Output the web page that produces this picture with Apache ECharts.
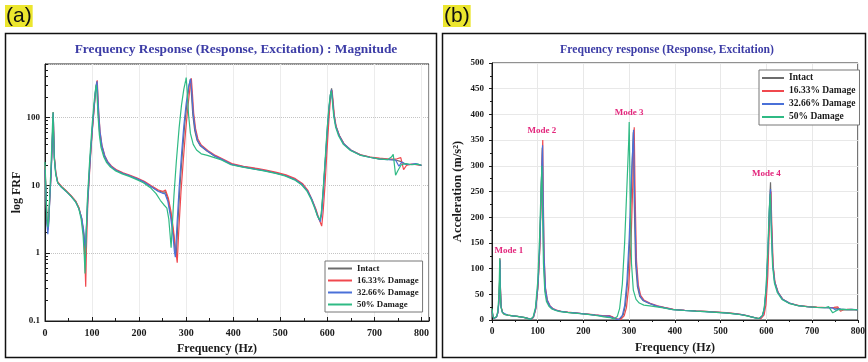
<!DOCTYPE html>
<html>
<head>
<meta charset="utf-8">
<script src="https://cdn.jsdelivr.net/npm/echarts@6/dist/echarts.min.js"></script>
<style>
  html, body { margin: 0; padding: 0; background: #fff; }
  #chart { width: 868px; height: 362px; }
</style>
</head>
<body>
<div id="chart"></div>
<script>
// Frequency response of the beam for the intact case and three damage levels.
// Each series is a list of [frequency (Hz), magnitude] pairs.
const seriesNames = ['Intact', '16.33% Damage', '32.66% Damage', '50% Damage'];

const intact = [
  [0, 18], [2, 8], [4, 3], [6, 2.2], [8, 3], [10, 6], [13, 15], [15, 35], [16.5, 70], [17.5, 115],
  [18.5, 60], [20, 25], [23, 15], [27, 11], [35, 9.5], [45, 8.2], [55, 7], [65, 5.8], [72, 4.6],
  [78, 3.2], [82, 2], [85, 1.1], [87, 1.6], [90, 5], [95, 20], [100, 60], [104, 130], [107, 230],
  [109, 300], [110, 335], [111, 240], [113, 120], [116, 60], [120, 38], [126, 27], [132, 22],
  [140, 19], [150, 16.8], [165, 15], [180, 13.8], [195, 12.5], [210, 11.2], [225, 9.6], [240, 8.3],
  [250, 7.9], [256, 8.0], [262, 6], [268, 3.5], [273, 1.9], [277, 1.05], [279, 0.9], [282, 2.5],
  [287, 10], [292, 30], [297, 80], [302, 170], [306, 290], [309, 365], [311, 230], [314, 110],
  [318, 65], [323, 46], [330, 38], [344, 32], [360, 27], [375, 24], [395, 20.5], [420, 18.8],
  [445, 17.5], [465, 16.6], [490, 15.2], [510, 14], [530, 12.3], [545, 10.5], [557, 8.4], [566, 6.3],
  [573, 4.8], [579, 3.6], [584, 3.0], [587, 3.6], [591, 8], [595, 20], [600, 60], [604, 140],
  [607, 230], [609, 268], [611, 190], [614, 110], [618, 75], [625, 55], [635, 41], [650, 33],
  [670, 28], [690, 26], [710, 24.5], [730, 24], [745, 23.5], [755, 22.5], [765, 20.5], [775, 20],
  [785, 20.5], [800, 19.5]
];

const damage16 = [
  [0, 19], [2, 8.5], [4, 3.2], [6, 2.3], [8, 3.1], [10, 6.2], [13, 15.5], [15, 37], [16.5, 75],
  [17.5, 120], [18.5, 62], [20, 26], [23, 15.5], [27, 11.2], [35, 9.6], [45, 8.3], [55, 7.1],
  [65, 5.9], [72, 4.7], [78, 3.2], [82, 1.9], [84.5, 0.9], [86.5, 0.32], [88, 1.1], [91, 5.5],
  [96, 22], [101, 70], [105, 150], [108, 260], [110, 320], [111, 350], [112, 250], [114, 125],
  [117, 62], [121, 39], [127, 27.5], [133, 22.5], [141, 19.2], [151, 17], [166, 15.2], [181, 14],
  [196, 12.7], [211, 11.4], [226, 9.8], [241, 8.5], [250, 8.1], [256, 8.5], [262, 6.5], [268, 4],
  [273, 2.2], [277, 1.2], [281, 0.72], [284, 2], [289, 8], [294, 24], [299, 65], [304, 150],
  [308, 270], [311, 375], [313, 240], [316, 115], [320, 68], [325, 48], [332, 39], [346, 32.5],
  [362, 27.5], [377, 24.5], [397, 20.8], [422, 19], [447, 17.8], [467, 16.9], [492, 15.5],
  [512, 14.2], [532, 12.5], [547, 10.6], [559, 8.3], [568, 6], [576, 4.4], [582, 3.2], [588, 2.5],
  [591, 4], [595, 10], [599, 30], [603, 85], [606, 170], [608, 225], [610, 250], [612, 180],
  [615, 105], [619, 72], [626, 53], [636, 40], [651, 32.5], [671, 28], [691, 26], [711, 25],
  [731, 24.3], [748, 24.5], [756, 25.5], [762, 17], [768, 19.5], [778, 20.5], [790, 20], [800, 19.8]
];

const damage32 = [
  [0, 17], [2, 7.5], [4, 2.8], [6, 1.9], [8, 2.7], [10, 5.8], [13, 14.5], [15, 34], [16.5, 68],
  [17.5, 117], [18.5, 58], [20, 24], [23, 14.5], [27, 10.8], [35, 9.3], [45, 8.1], [55, 6.9],
  [65, 5.7], [72, 4.5], [78, 3.3], [82, 2.2], [85, 1.3], [86.5, 1.2], [88, 2.2], [91, 6], [96, 24],
  [101, 75], [105, 160], [108, 270], [110.5, 340], [112, 220], [114, 118], [117, 60], [121, 38],
  [127, 27], [133, 22], [141, 18.8], [151, 16.6], [166, 14.9], [181, 13.7], [196, 12.4], [211, 11.1],
  [226, 9.5], [241, 8.1], [250, 7.6], [255, 7.5], [261, 5.8], [267, 3.4], [272, 1.8], [275, 1.05],
  [277, 0.87], [280, 2.3], [285, 9], [290, 28], [295, 75], [300, 160], [305, 280], [309.5, 370],
  [312, 230], [315, 112], [319, 66], [324, 46], [331, 38], [345, 32], [361, 27], [376, 24],
  [396, 20.3], [421, 18.6], [446, 17.3], [466, 16.4], [491, 15], [511, 13.8], [531, 12.1],
  [546, 10.3], [558, 8.2], [567, 6.2], [574, 4.6], [580, 3.4], [585, 2.9], [588, 3.8], [592, 9],
  [596, 25], [600, 70], [604, 150], [607, 225], [609, 255], [611, 185], [614, 108], [618, 74],
  [625, 54], [635, 40.5], [650, 32.8], [670, 27.8], [690, 25.8], [710, 24.3], [730, 23.8],
  [745, 23.5], [752, 19], [758, 22], [766, 20.5], [776, 20.2], [788, 20.8], [800, 19.6]
];

const damage50 = [
  [0, 22], [2, 9], [4, 3.3], [6, 2.4], [8, 3.4], [10, 7], [12.5, 17], [14.5, 40], [16, 80], [17, 120],
  [18, 60], [19.5, 26], [22.5, 15], [27, 10.8], [35, 9.4], [45, 8.1], [55, 6.9], [65, 5.7], [72, 4.5],
  [77, 3.1], [81, 1.8], [83.5, 0.9], [85, 0.5], [87, 1.5], [90, 6], [95, 24], [100, 75], [104, 160],
  [107, 250], [109, 300], [110.5, 220], [112.5, 110], [115.5, 55], [119, 36], [125, 26], [131, 21.5],
  [139, 18.5], [149, 16.4], [164, 14.7], [179, 13.5], [194, 12.2], [209, 10.9], [224, 9.2],
  [236, 7.5], [245, 6.0], [252, 5.2], [259, 4.6], [263, 3.2], [266, 1.8], [268, 1.2], [270, 2.2],
  [274, 7], [279, 22], [285, 70], [290, 150], [295, 260], [299, 350], [300, 385], [302, 250],
  [305, 110], [309, 58], [315, 40], [322, 33], [332, 29], [345, 27.5], [360, 25.5], [375, 23.5],
  [395, 20], [420, 18.5], [445, 17.2], [465, 16.3], [490, 14.9], [510, 13.7], [530, 12], [545, 10.2],
  [557, 8.1], [566, 6.1], [573, 4.6], [579, 3.5], [584, 3.1], [587, 3.8], [591, 8.5], [595, 22],
  [599, 60], [603, 135], [606, 210], [608.5, 245], [610.5, 175], [613.5, 105], [617.5, 72],
  [624, 53], [634, 40], [649, 32.5], [669, 27.8], [689, 25.8], [709, 24.4], [728, 23.8], [736, 26],
  [740, 28.5], [745, 14], [750, 16.5], [757, 20], [767, 20.8], [780, 20], [792, 20.4], [800, 19.7]
];

const seriesData = [intact, damage16, damage32, damage50];

// Log-axis minor tick values for the FRF magnitude panel
const logMinorTicks = [
  0.2, 0.3, 0.4, 0.5, 0.6, 0.7, 0.8, 0.9,
  2, 3, 4, 5, 6, 7, 8, 9,
  20, 30, 40, 50, 60, 70, 80, 90,
  200, 300, 400, 500, 600
];

const modeNames = ['Mode 1', 'Mode 2', 'Mode 3', 'Mode 4'];

const serif = '"Liberation Serif", "Times New Roman", serif';
const colors = ['#6c6c6c', '#f0484e', '#4a70d8', '#2fba84'];
const ink = '#1a1a1a';

const boldText = (size, color) => ({
  fontFamily: serif, fontWeight: 'bold', fontSize: size, color: color || ink
});

const series = [];
seriesNames.forEach((name, i) => {
  const common = {
    type: 'line', name: name, data: seriesData[i], symbol: 'none',
    color: colors[i], lineStyle: { width: 1.2, color: colors[i] }, animation: false
  };
  series.push(Object.assign({}, common, { xAxisIndex: 0, yAxisIndex: 0 }));
  const lin = Object.assign({}, common, { xAxisIndex: 1, yAxisIndex: 2 });
  if (i === seriesNames.length - 1) {
    lin.markPoint = {
      symbol: 'circle', symbolSize: 1,
      itemStyle: { color: 'rgba(0,0,0,0)' },
      label: Object.assign({ show: true, position: 'inside', formatter: '{b}' }, boldText(9, '#e3267c')),
      data: [
        { name: modeNames[0], coord: [37, 134] },
        { name: modeNames[1], coord: [109, 368] },
        { name: modeNames[2], coord: [300, 403] },
        { name: modeNames[3], coord: [600, 284] }
      ]
    };
  }
  series.push(lin);
});

const legendBase = {
  orient: 'vertical', itemGap: 3, padding: [3, 4, 3, 2],
  borderColor: '#777', borderWidth: 1, backgroundColor: '#fff',
  itemStyle: { opacity: 0 }, lineStyle: { width: 2 }, data: seriesNames
};

const chart = echarts.init(document.getElementById('chart'), null, { renderer: 'canvas' });

chart.setOption({
  backgroundColor: '#fff',
  animation: false,
  graphic: [
    { type: 'rect', shape: { x: 5.5, y: 33.5, width: 431, height: 324 },
      style: { fill: 'none', stroke: '#111', lineWidth: 1.5 } },
    { type: 'rect', shape: { x: 442.5, y: 33.5, width: 423, height: 324 },
      style: { fill: 'none', stroke: '#111', lineWidth: 1.5 } },
    { type: 'text', left: 5, top: 5,
      style: { text: '(a)', font: '21px "Liberation Sans", Arial, sans-serif', fill: '#111',
               backgroundColor: '#ece62e', padding: [1, 1, 0, 1] } },
    { type: 'text', left: 443, top: 5,
      style: { text: '(b)', font: '21px "Liberation Sans", Arial, sans-serif', fill: '#111',
               backgroundColor: '#ece62e', padding: [1, 1, 0, 1] } },
    { type: 'text', x: 236, y: 50,
      style: { text: 'Frequency Response (Response, Excitation) : Magnitude',
               font: 'bold 13.4px ' + serif, fill: '#3c3ca6', align: 'center', verticalAlign: 'middle' } },
    { type: 'text', x: 667, y: 50,
      style: { text: 'Frequency response (Response, Excitation)',
               font: 'bold 11.7px ' + serif, fill: '#3c3ca6', align: 'center', verticalAlign: 'middle' } }
  ],
  grid: [
    { left: 45, top: 64, width: 384, height: 257, show: true, borderColor: '#222', borderWidth: 1 },
    { left: 492, top: 63, width: 366, height: 257, show: true, borderColor: '#222', borderWidth: 1 }
  ],
  legend: [
    Object.assign({}, legendBase, {
      left: 325, top: 261, itemWidth: 24, itemHeight: 10, textStyle: boldText(8.8)
    }),
    Object.assign({}, legendBase, {
      left: 759, top: 70, itemWidth: 22, itemHeight: 9.5, textStyle: boldText(9.5)
    })
  ],
  xAxis: [
    {
      gridIndex: 0, type: 'value', min: 0, max: 816, interval: 100,
      axisLine: { onZero: false, lineStyle: { color: ink } },
      axisTick: { inside: true, length: 4, lineStyle: { color: ink } },
      minorTick: { show: true, splitNumber: 2, length: 3, lineStyle: { color: ink } },
      axisLabel: Object.assign({ margin: 7, showMaxLabel: false }, boldText(10)),
      splitLine: { show: true, lineStyle: { color: '#ececec' } },
      name: 'Frequency (Hz)', nameLocation: 'middle', nameGap: 19,
      nameTextStyle: Object.assign({ padding: [0, 40, 0, 0] }, boldText(12))
    },
    {
      gridIndex: 1, type: 'value', min: 0, max: 800, interval: 100,
      axisLine: { onZero: false, lineStyle: { color: ink } },
      axisTick: { length: 3, lineStyle: { color: ink } },
      minorTick: { show: true, splitNumber: 2, length: 2, lineStyle: { color: ink } },
      axisLabel: Object.assign({ margin: 7 }, boldText(9.5)),
      splitLine: { show: true, lineStyle: { color: '#e8e8e8' } },
      name: 'Frequency (Hz)', nameLocation: 'middle', nameGap: 22,
      nameTextStyle: boldText(12)
    }
  ],
  yAxis: [
    {
      gridIndex: 0, type: 'log', logBase: 10, min: 0.1, max: 610, position: 'left',
      axisLine: { show: true, lineStyle: { color: ink } },
      axisTick: { show: true, inside: true, length: 5, lineStyle: { color: ink } },
      axisLabel: Object.assign({
        margin: 5, showMaxLabel: false,
        formatter: v => (v < 1 ? v.toFixed(1) : String(Math.round(v)))
      }, boldText(9)),
      splitLine: { show: true, lineStyle: { color: '#c4c4c4', type: 'dotted' } },
      name: 'log FRF', nameLocation: 'middle', nameGap: 17, nameTextStyle: boldText(12)
    },
    {
      gridIndex: 0, type: 'log', logBase: 10, min: 0.1, max: 610, position: 'left', offset: 0,
      axisLine: { show: false },
      axisTick: { show: true, inside: true, length: 3, customValues: logMinorTicks,
                  lineStyle: { color: ink } },
      axisLabel: { show: false },
      splitLine: { show: false }
    },
    {
      gridIndex: 1, type: 'value', min: 0, max: 500, interval: 50,
      axisLine: { show: true, lineStyle: { color: ink } },
      axisTick: { show: true, length: 3, lineStyle: { color: ink } },
      minorTick: { show: true, splitNumber: 2, length: 2, lineStyle: { color: ink } },
      axisLabel: Object.assign({ margin: 8 }, boldText(9)),
      splitLine: { show: true, lineStyle: { color: '#e8e8e8' } },
      name: 'Acceleration (m/s²)', nameLocation: 'middle', nameGap: 28, nameTextStyle: boldText(12.5)
    }
  ],
  series: series
});
</script>
</body>
</html>
